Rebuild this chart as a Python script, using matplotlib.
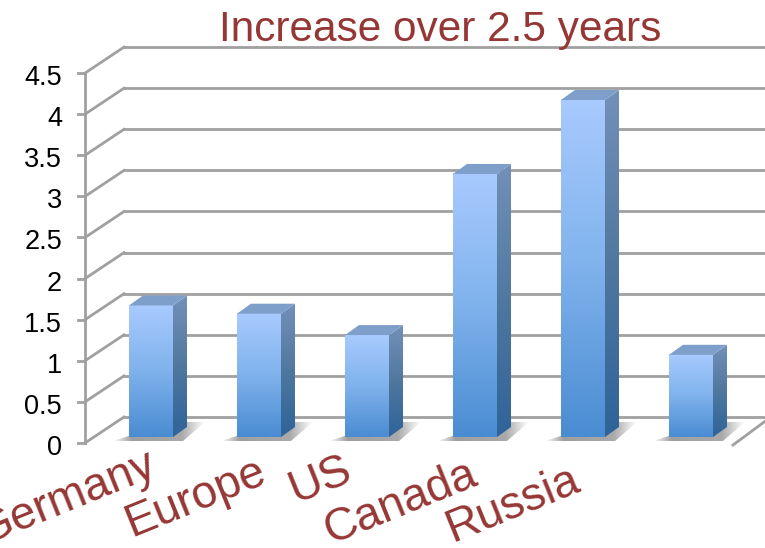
import numpy as np
import matplotlib
matplotlib.use("Agg")
import matplotlib.pyplot as plt
from matplotlib.colors import LinearSegmentedColormap
from matplotlib.patches import Polygon

plt.rcParams['font.family'] = ['Liberation Sans', 'DejaVu Sans']

# data
categories = ['Germany', 'Europe', 'US', 'Canada', 'Russia', '']
values = [1.6, 1.5, 1.24, 3.2, 4.1, 1.0]
tick_values = [0, 0.5, 1, 1.5, 2, 2.5, 3, 3.5, 4, 4.5]
tick_labels = ['0', '0.5', '1', '1.5', '2', '2.5', '3', '3.5', '4', '4.5']
title = 'Increase over 2.5 years'

RED = '#953735'
GRID = '#a0a0a0'
LW = 2.0

# pixels per category and per unit
PX_X = 108.0
PX_Y = 82.2
X0 = 151.0   # pixel x of first bar centre
Y0 = 437.0   # pixel y of value 0 at the bar front

def px(dx):
    return dx / PX_X

def py(dy):
    return dy / PX_Y

fig = plt.figure(figsize=(7.65, 5.48), dpi=100)
ax = fig.add_axes([0, 0, 1, 1])

# floor / wall frame
x_front = px(85 - X0)
x_back = px(124 - X0)
x_right_front = px(733 - X0)
x_right_back = px(775 - X0)
front_drop = py(6)     # front floor sits under the bars
back_rise = py(20)

for v, lab in zip(tick_values, tick_labels):
    y_f = v - front_drop
    y_b = v + back_rise
    ax.plot([x_front, x_back], [y_f, y_b], color=GRID, lw=LW, zorder=1)
    ax.plot([px(78 - X0), x_front], [y_f, y_f], color=GRID, lw=LW, zorder=1)
    ax.plot([x_back, x_right_back], [y_b, y_b], color=GRID, lw=LW, zorder=1)
    ax.text(px(62 - X0), y_f - py(5), lab, ha='right', va='center', fontsize=19.5, color='black')

ax.plot([x_front, x_front], [-front_drop, 4.5 - front_drop], color=GRID, lw=LW, zorder=1)
ax.plot([x_right_front, x_right_back], [-front_drop - py(2), back_rise + py(3)], color=GRID, lw=LW, zorder=1)

front_cmap = LinearSegmentedColormap.from_list('front', ['#4a8cd2', '#7fb2ec', '#a8caff'])
side_cmap = LinearSegmentedColormap.from_list('side', ['#2f6399', '#50789f', '#7390b8'])
grad = np.linspace(0, 1, 128).reshape(-1, 1)

half = px(22)
dx = px(14)
dy = py(10)

shadow = np.zeros((1, 128, 4))
shadow[0, :, :3] = 0.58
shadow[0, :, 3] = np.interp(np.linspace(0, 1, 128), [0, 0.2, 0.75, 1], [0, 0.9, 0.8, 0])

for i, v in enumerate(values):
    left = i - half
    right = i + half

    # shadow on the floor
    sh = Polygon([(left - px(16), -py(4)), (right + px(10), -py(4)),
                  (right + px(32), py(15)), (right, py(15))],
                 closed=True, transform=ax.transData, fc='none', ec='none')
    ax.add_patch(sh)
    im = ax.imshow(shadow, extent=[left - px(16), right + px(32), -py(4), py(15)],
                   aspect='auto', zorder=2)
    im.set_clip_path(sh)

    # front face
    ax.imshow(grad, extent=[left, right, 0, v], origin='lower', cmap=front_cmap,
              aspect='auto', zorder=3)

    # side face
    side = Polygon([(right, 0), (right + dx, dy), (right + dx, v + dy), (right, v)],
                   closed=True, transform=ax.transData, fc='none', ec='none')
    ax.add_patch(side)
    im = ax.imshow(grad, extent=[right, right + dx, 0, v + dy], origin='lower',
                   cmap=side_cmap, aspect='auto', zorder=3)
    im.set_clip_path(side)

    # top face
    ax.add_patch(Polygon([(left, v), (left + dx, v + dy), (right + dx, v + dy), (right, v)],
                         closed=True, fc='#7f9fcb', ec='none', zorder=3))

ax.set_xlim(-X0 / PX_X, (765 - X0) / PX_X)
ax.set_ylim((Y0 - 548) / PX_Y, Y0 / PX_Y)
ax.axis('off')

# rotated category labels
label_x = [-0.775, 0.41, 1.57, 2.31, 3.35]
label_y = [-0.74, -0.74, -0.52, -0.8, -0.82]
for name, lx, ly in zip(categories[:5], label_x, label_y):
    ax.text(lx, ly, name, rotation=22, ha='center', va='center',
            rotation_mode='anchor', fontsize=33, color=RED, clip_on=False)

ax.text(px(440 - X0), py(Y0 - 30), title, ha='center', va='center', fontsize=30.5, color=RED)

fig.savefig('out.png', dpi=100)
